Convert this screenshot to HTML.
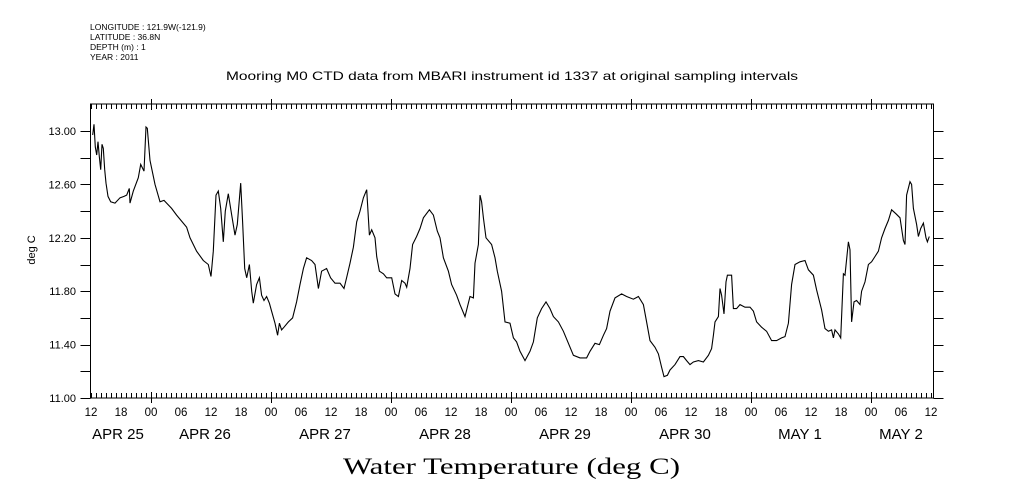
<!DOCTYPE html>
<html><head><meta charset="utf-8"><style>
html,body{margin:0;padding:0;background:#fff;}
svg{display:block;}
text{fill:#000;}
</style></head><body>
<svg id="chart" width="1009" height="504" viewBox="0 0 1009 504" xmlns="http://www.w3.org/2000/svg">
<g font-family="Liberation Sans, sans-serif" font-size="8.5">
<text x="90" y="30">LONGITUDE : 121.9W(-121.9)</text>
<text x="90" y="40">LATITUDE : 36.8N</text>
<text x="90" y="50">DEPTH (m) : 1</text>
<text x="90" y="60">YEAR : 2011</text>
</g>
<text x="512" y="80" text-anchor="middle" font-family="Liberation Sans, sans-serif" font-size="12" textLength="572" lengthAdjust="spacingAndGlyphs">Mooring M0 CTD data from MBARI instrument id 1337 at original sampling intervals</text>
<text x="343" y="474" font-family="Liberation Serif, serif" font-size="23" textLength="337" lengthAdjust="spacingAndGlyphs">Water Temperature (deg C)</text>
<text transform="translate(35,250) rotate(-90)" text-anchor="middle" font-family="Liberation Sans, sans-serif" font-size="11">deg C</text>
<g id="axes"></g>
<g id="plot"></g>
</svg>
<script>
// hours since Apr 25 12:00
const hours = [0.33,0.6,0.87,1.13,1.4,1.67,1.93,2.2,2.47,2.73,3.0,3.4,3.93,4.8,5.8,6.6,7.13,7.67,7.8,8.47,9.47,9.93,10.6,11.0,11.27,11.8,12.8,13.8,14.6,16.13,17.13,19.13,19.8,21.13,22.47,23.47,24.0,24.47,25.0,25.47,25.93,26.47,26.87,27.47,28.13,28.8,29.27,29.93,30.33,30.73,31.13,31.67,32.13,32.47,33.13,33.67,34.13,34.6,35.13,35.67,36.13,36.8,37.33,37.67,38.13,38.6,39.47,40.33,41.13,41.8,42.47,43.13,44.13,44.8,45.47,46.13,47.13,47.93,48.8,49.8,50.6,51.13,51.8,52.47,53.13,53.8,54.47,55.13,55.67,56.13,56.8,57.13,57.67,58.47,59.13,60.13,60.8,61.47,62.13,62.8,63.13,63.8,64.33,65.13,65.8,66.47,67.67,68.47,69.27,69.8,70.47,71.47,72.13,73.13,73.8,74.8,75.8,76.47,76.8,77.47,77.8,78.13,78.47,79.0,80.13,80.8,81.27,82.13,82.8,83.8,84.47,85.13,85.8,86.8,87.8,88.47,89.27,90.13,91.0,91.8,92.47,93.47,94.47,95.47,96.47,97.8,99.13,99.8,100.8,101.67,102.47,103.13,103.8,104.8,106.13,107.13,108.47,109.47,110.47,111.13,111.8,112.8,113.47,114.13,114.6,115.27,115.8,116.8,117.8,118.47,119.13,119.8,120.47,121.47,122.47,123.47,124.13,124.47,124.8,125.47,125.8,126.13,126.6,127.0,127.27,127.8,128.13,128.47,129.13,129.8,130.8,131.8,132.47,133.13,134.13,135.13,136.13,137.13,138.13,138.8,139.47,140.13,140.8,141.8,142.8,143.47,144.47,145.13,146.13,146.8,147.47,148.13,148.47,148.8,149.47,149.93,150.47,150.8,151.47,151.8,152.13,152.6,153.13,153.8,154.13,154.8,155.47,156.13,156.8,157.47,158.13,158.8,159.47,160.13,161.0,161.8,162.47,162.8,163.13,163.8,164.13,164.47,165.13,165.47,165.93,166.47,167.0,167.27,167.67];
const temps = [12.97,13.05,12.88,12.82,12.92,12.81,12.71,12.90,12.87,12.71,12.61,12.51,12.47,12.46,12.50,12.51,12.52,12.57,12.46,12.55,12.65,12.75,12.70,13.03,13.02,12.78,12.60,12.47,12.48,12.42,12.37,12.28,12.20,12.10,12.03,12.00,11.91,12.10,12.52,12.55,12.42,12.17,12.40,12.53,12.37,12.22,12.30,12.61,12.32,11.97,11.90,12.00,11.80,11.71,11.85,11.90,11.77,11.73,11.76,11.71,11.65,11.56,11.47,11.56,11.51,11.53,11.57,11.60,11.72,11.85,11.97,12.05,12.03,12.00,11.82,11.95,11.97,11.90,11.86,11.86,11.82,11.90,12.01,12.13,12.32,12.40,12.50,12.56,12.22,12.26,12.20,12.06,11.95,11.93,11.90,11.90,11.78,11.76,11.88,11.86,11.83,11.97,12.15,12.21,12.27,12.35,12.41,12.37,12.25,12.20,12.05,11.95,11.85,11.77,11.70,11.61,11.76,11.75,12.01,12.15,12.52,12.47,12.35,12.20,12.15,12.05,11.95,11.80,11.57,11.56,11.45,11.42,11.35,11.28,11.35,11.42,11.60,11.67,11.72,11.67,11.61,11.57,11.50,11.41,11.32,11.30,11.30,11.35,11.41,11.40,11.47,11.52,11.65,11.75,11.78,11.76,11.74,11.76,11.70,11.57,11.43,11.38,11.33,11.23,11.16,11.17,11.21,11.25,11.31,11.31,11.28,11.25,11.27,11.28,11.27,11.32,11.37,11.47,11.57,11.61,11.82,11.77,11.63,11.87,11.92,11.92,11.92,11.67,11.67,11.70,11.68,11.68,11.65,11.57,11.53,11.50,11.43,11.43,11.45,11.46,11.56,11.85,12.00,12.02,12.03,11.96,11.92,11.81,11.66,11.52,11.50,11.51,11.45,11.51,11.48,11.45,11.93,11.92,12.17,12.11,11.57,11.72,11.73,11.70,11.80,11.87,12.00,12.02,12.06,12.10,12.20,12.27,12.33,12.41,12.38,12.35,12.18,12.15,12.52,12.62,12.60,12.42,12.30,12.21,12.27,12.31,12.20,12.17,12.21];
const yTicks = [11.0,11.2,11.4,11.6,11.8,12.0,12.2,12.4,12.6,12.8,13.0];
const yLabels = ["11.00","","11.40","","11.80","","12.20","","12.60","","13.00"];
const xLabels = ["12","18","00","06","12","18","00","06","12","18","00","06","12","18","00","06","12","18","00","06","12","18","00","06","12","18","00","06","12"];
const dateLabels = ["APR 25","APR 26","APR 27","APR 28","APR 29","APR 30","MAY  1","MAY  2"];
const dateHours = [5.4,22.8,46.8,70.8,94.8,118.8,141.8,162];

const L=90.5, R=933.5, T=104, B=398;
const X0=91, PXH=5;
const YMIN=11.0, PXD=133.5;
const xs = h => X0 + h*PXH;
const ys = v => B - (v-YMIN)*PXD;
const NS="http://www.w3.org/2000/svg";
function mk(tag, attrs, parent){const e=document.createElementNS(NS,tag);for(const k in attrs)e.setAttribute(k,attrs[k]);parent.appendChild(e);return e;}
const axes=document.getElementById('axes'), plot=document.getElementById('plot');

const frame = mk('rect',{x:L,y:T,width:R-L,height:B-T,fill:'none',stroke:'#000','stroke-width':1},axes);



let d='';
const maxH=(R-X0)/PXH;
for(let h=0;h<=maxH;h++){
  const x=Math.round(xs(h))+0.5;
  const major=((h+12)%24===0);
  if(major){ d+=`M${x} ${B+5}V${B-6}M${x} ${T-5}V${T+6}`; }
  else { d+=`M${x} ${B}V${B-5}M${x} ${T}V${T+5}`; }
}
yTicks.forEach(v=>{const y=Math.round(ys(v))+0.5; d+=`M${L-10} ${y}H${L}M${R} ${y}H${R+10}`;});
const tk=mk('path',{d:d,stroke:'#000','stroke-width':1,fill:'none'},axes);



yTicks.forEach((v,i)=>{ if(!yLabels[i])return;
  const t=mk('text',{x:76,y:ys(v)+4,'text-anchor':'end','font-family':'Liberation Sans, sans-serif','font-size':11},axes);
  t.textContent=yLabels[i];
  
  
});
xLabels.forEach((s,i)=>{
  const t=mk('text',{x:xs(i*6),y:416,'text-anchor':'middle','font-family':'Liberation Sans, sans-serif','font-size':11.5},axes);
  t.textContent=s;
  
  
});
dateLabels.forEach((s,i)=>{
  const t=mk('text',{x:xs(dateHours[i]),y:439,'text-anchor':'middle','font-family':'Liberation Sans, sans-serif','font-size':15,'xml:space':'preserve'},axes);
  t.textContent=s;
  
  
});

const pts=hours.map((h,i)=>xs(h).toFixed(1)+','+ys(temps[i]).toFixed(1)).join(' ');
const line=mk('polyline',{points:pts,fill:'none',stroke:'#000','stroke-width':1.1,'stroke-linejoin':'miter'},plot);


</script>
</body></html>
